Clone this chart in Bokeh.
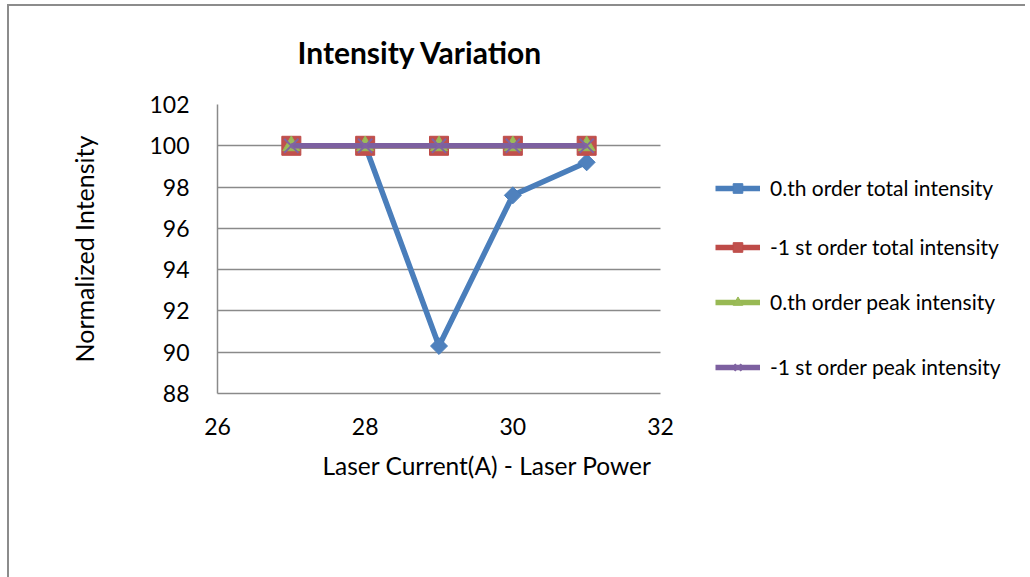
from bokeh.plotting import figure
from bokeh.models import (Range1d, FixedTicker, Legend, LegendItem, Title, BoxAnnotation)
from bokeh.embed import file_html
from bokeh.resources import INLINE
import math

# ---- data ----
laser_current = [27, 28, 29, 30, 31]
zeroth_total = [100.0, 100.0, 90.3, 97.6, 99.2]
first_total = [100.0, 100.0, 100.0, 100.0, 100.0]
zeroth_peak = [100.0, 100.0, 100.0, 100.0, 100.0]
first_peak = [100.0, 100.0, 100.0, 100.0, 100.0]

series_names = ["0.th order total intensity", "-1 st order total intensity",
                "0.th order peak intensity", "-1 st order peak intensity"]
x_ticks = [26, 28, 30, 32]
y_ticks = [88, 90, 92, 94, 96, 98, 100, 102]
x_min, x_max = 26, 32
y_min, y_max = 88, 102

FONT = "Lato"
GRID = "#8a8a8a"

# plot area spans 26..32 over 443 px; the frame is widened to the right to hold the legend
PLOT_W = 443
FRAME_W = 808
x_end = x_min + (x_max - x_min) * FRAME_W / PLOT_W

p = figure(frame_width=FRAME_W, frame_height=289, output_backend="svg", toolbar_location=None,
           x_range=Range1d(x_min, x_end), y_range=Range1d(y_min, y_max),
           min_border_left=208, min_border_right=0,
           min_border_top=98, min_border_bottom=184)
p.margin = (4, 0, 0, 7)
p.styles = {"border-left": "2px solid #8c8c8c", "border-top": "2px solid #8c8c8c"}
p.outline_line_color = None
p.background_fill_color = "white"
p.border_fill_color = "white"

# spacer between frame and title (title sits outermost in the top panel)
p.add_layout(Title(text=" ", text_font_size="1px", standoff=27), "above")

# title
p.title.text = "Intensity Variation"
p.title.text_font = FONT
p.title.text_font_size = "30px"
p.title.text_font_style = "bold"
p.title.text_color = "black"
p.title.align = "left"
p.title.offset = 80
p.title.standoff = 10

# axes
for ax in (p.xaxis[0], p.yaxis[0]):
    ax.major_tick_in = 0
    ax.major_tick_out = 0
    ax.minor_tick_in = 0
    ax.minor_tick_out = 0
    ax.axis_line_color = GRID
    ax.axis_line_width = 1.5
    ax.major_label_text_font = FONT
    ax.major_label_text_font_size = "23px"
    ax.major_label_text_color = "black"
    ax.axis_label_text_font = FONT
    ax.axis_label_text_font_size = "25px"
    ax.axis_label_text_font_style = "normal"
    ax.axis_label_text_color = "black"

p.xaxis.ticker = FixedTicker(ticks=x_ticks)
p.xaxis.bounds = (x_min, x_max)
p.yaxis.ticker = FixedTicker(ticks=y_ticks)
p.yaxis.axis_label = "Normalized Intensity"
p.xaxis.major_label_standoff = 24
p.yaxis.major_label_standoff = 28
p.yaxis.axis_label_standoff = 47

# x-axis title, offset to the right like the reference
xt = Title(text="Laser Current(A) - Laser Power", text_font=FONT,
           text_font_size="24.5px", text_font_style="normal", text_color="black",
           align="left", offset=105, standoff=22)
p.add_layout(xt, "below")

p.xgrid.grid_line_color = None
p.ygrid.grid_line_color = GRID
p.ygrid.grid_line_width = 1.5

# blank out gridlines beyond the plot area (legend region)
p.add_layout(BoxAnnotation(left=x_max, fill_color="white", fill_alpha=1.0,
                           line_color=None, level="underlay"))

# series
specs = [
    (zeroth_total, "#4A7EBB", "#4F81BD", "square", 12, math.pi / 4),
    (first_total, "#BE4B48", "#C0504D", "square", 19, 0),
    (zeroth_peak, "#98B954", "#9BBB59", "triangle", 17, 0),
    (first_peak, "#7D60A0", "#8064A2", "x", 20, 0),
]
renderers = []
for ys, lc, mc, marker, size, ang in specs:
    l = p.line(laser_current, ys, line_color=lc, line_width=5.5)
    if marker == "x":
        m = p.scatter(laser_current, ys, marker="x", size=size, line_color=mc, line_width=2)
    else:
        m = p.scatter(laser_current, ys, marker=marker, size=size, angle=ang,
                      fill_color=mc, line_color=lc, line_width=1)
    renderers.append((l, m))

# legends (one per entry, placed like the reference)
legend_y = [188, 247, 302, 367]   # page y of entry centres
frame_bottom = 393
for (l, m), name, yc in zip(renderers, series_names, legend_y):
    lg = Legend(items=[LegendItem(label=name, renderers=[l, m])],
                location=(498, frame_bottom - yc - 12),
                orientation="vertical", padding=0, margin=0, spacing=0,
                glyph_width=45, glyph_height=24, label_height=24,
                label_standoff=10, border_line_color=None,
                background_fill_alpha=0, label_text_color="black",
                label_text_font=FONT, label_text_font_size="21px")
    p.add_layout(lg, "center")

open("out.html", "w").write(file_html(p, INLINE))
